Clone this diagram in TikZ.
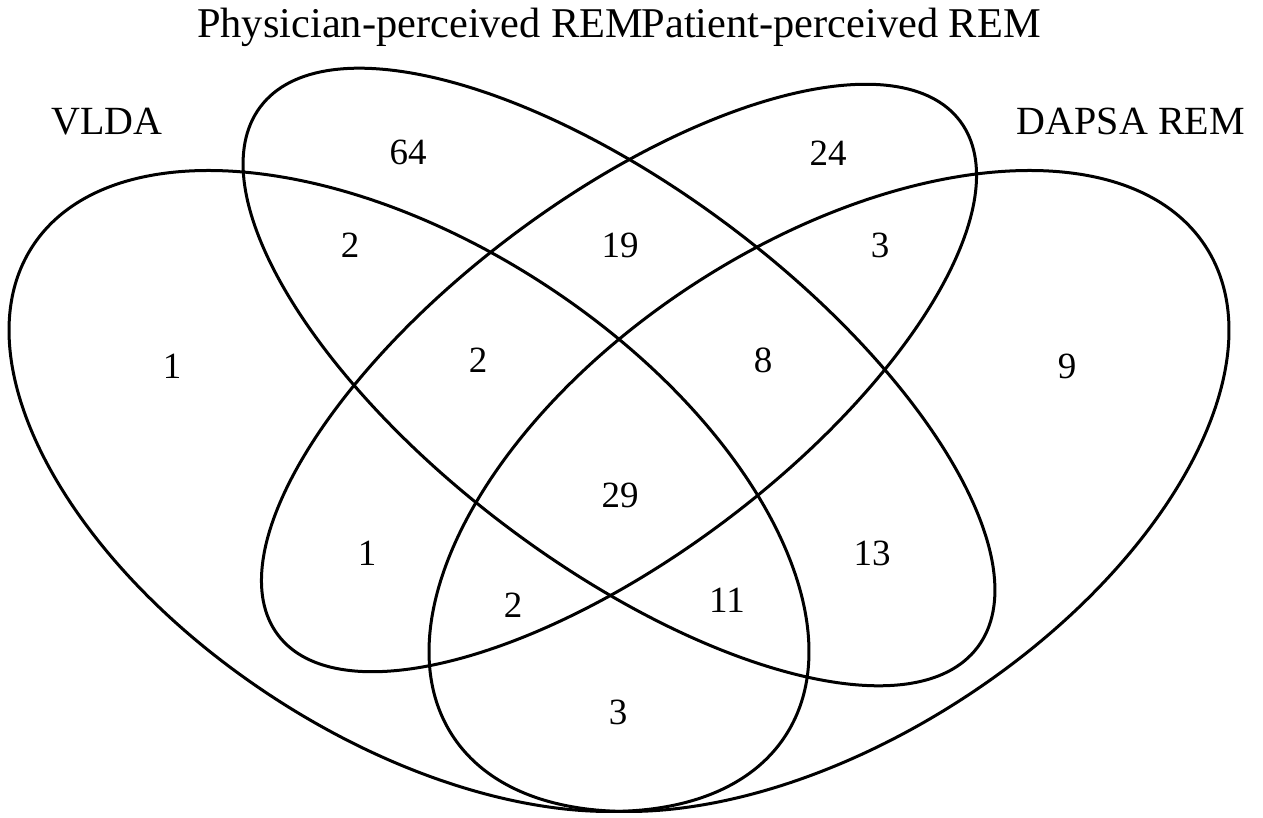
\documentclass[tikz,border=0pt]{standalone}
\usepackage{fontspec}
\setmainfont{Liberation Serif}
\begin{document}
\begin{tikzpicture}[x=1pt,y=1pt,
  venn/.style={line width=3pt},
  num/.style={font=\fontsize{37}{40}\selectfont, inner sep=0pt},
  cat/.style={font=\fontsize{40}{44}\selectfont, inner sep=0pt},
  toplab/.style={font=\fontsize{42.4}{46}\selectfont, inner sep=0pt}]
\useasboundingbox (0,0) rectangle (1263,818);
% ellipses
\draw[venn, shift={(409,327)}, rotate=-33] (0,0) ellipse [x radius=449, y radius=247];
\draw[venn, shift={(619,441)}, rotate=-37] (0,0) ellipse [x radius=449, y radius=187];
\draw[venn, shift={(619,440)}, rotate=37] (0,0) ellipse [x radius=427, y radius=178];
\draw[venn, shift={(829,327)}, rotate=33] (0,0) ellipse [x radius=449, y radius=247];
% category labels
\node[cat, anchor=base] (cA) at (107,683) {VLDA};
\node[cat, anchor=base east] (cD) at (1245,683) {DAPSA REM};
\node[toplab, anchor=base west] (cB) at (197,780) {Physician-perceived REM};
\node[toplab, anchor=base east] (cC) at (1041,780) {Patient-perceived REM};
% counts
\node[num] (nB) at (408,666) {64};
\node[num] (nC) at (828,665) {24};
\node[num] (nAB) at (350,573) {2};
\node[num] (nBC) at (620,573) {19};
\node[num] (nCD) at (880,573) {3};
\node[num] (nA) at (172,452) {1};
\node[num] (nABC) at (478,458) {2};
\node[num] (nBCD) at (763,458) {8};
\node[num] (nD) at (1067,452) {9};
\node[num] (nABCD) at (620,323) {29};
\node[num] (nAC) at (367,265) {1};
\node[num] (nBD) at (872,265) {13};
\node[num] (nACD) at (513,213) {2};
\node[num] (nABD) at (727,218) {11};
\node[num] (nAD) at (618,106) {3};
\end{tikzpicture}
\end{document}
